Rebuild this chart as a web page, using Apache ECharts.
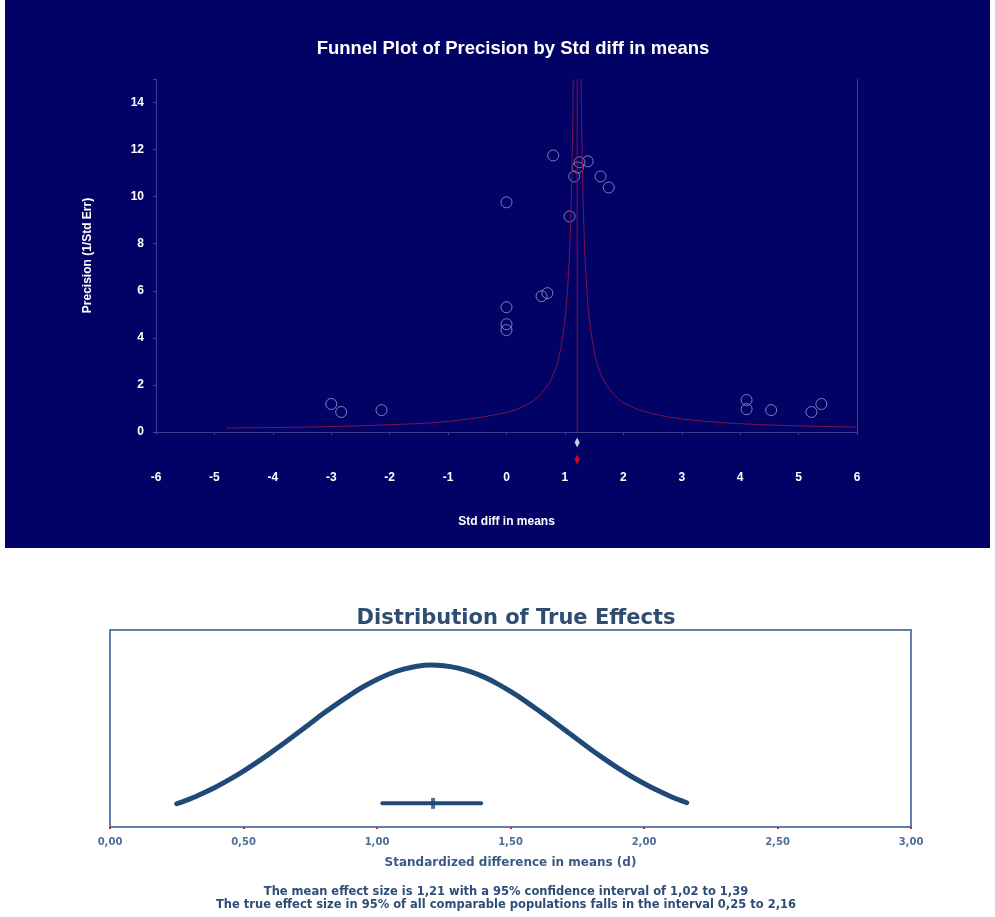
<!DOCTYPE html>
<html>
<head>
<meta charset="utf-8">
<script src="https://cdn.jsdelivr.net/npm/echarts@6/dist/echarts.min.js"></script>
<style>
  html, body { margin: 0; padding: 0; background: #ffffff; }
  #main { width: 995px; height: 917px; }
</style>
</head>
<body>
<div id="main"></div>
<script>
// studies: effect (std diff in means) and precision (1/SE)
const studyX = [-3.0, -2.83, -2.14, 0.0, 0.0, 0.0, 0.0, 0.6, 0.7, 0.8, 1.08, 1.16, 1.22, 1.25, 1.39, 1.61, 1.75, 4.11, 4.11, 4.53, 5.22, 5.39];
const studyPrecision = [1.19, 0.85, 0.93, 9.76, 5.3, 4.58, 4.33, 5.77, 5.9, 11.75, 9.16, 10.86, 11.24, 11.46, 11.5, 10.86, 10.39, 1.36, 0.97, 0.93, 0.85, 1.19];

// funnel limits
const leftFunnelX = [-4.8, -4.0, -3.0, -2.0, -1.0, 0.0, 0.3, 0.5, 0.71, 0.81, 0.9, 1.0, 1.056, 1.1, 1.13, 1.143];
const leftFunnelP = [0.17, 0.19, 0.23, 0.31, 0.45, 0.83, 1.1, 1.4, 2.0, 2.5, 3.2, 4.8, 6.5, 9.1, 12.5, 15];
const rightFunnelX = [1.277, 1.29, 1.32, 1.364, 1.42, 1.52, 1.61, 1.71, 1.92, 2.12, 2.42, 2.88, 3.48, 4.2, 5.0, 6.0];
const rightFunnelP = [15, 12.5, 9.1, 6.5, 4.8, 3.2, 2.5, 2.0, 1.4, 1.1, 0.83, 0.6, 0.44, 0.33, 0.26, 0.21];
const meanEffect = 1.21;
const precisionMax = 15;

// pooled estimate diamonds (observed, adjusted)
const pooledRows = ['Observed', 'Adjusted'];
const pooledX = [1.21, 1.21];

// distribution of true effects (height read relative to the box)
const distX = [0.25, 0.30, 0.35, 0.40, 0.45, 0.50, 0.55, 0.60, 0.65, 0.70, 0.75, 0.80, 0.85, 0.90, 0.95, 1.00, 1.05, 1.10, 1.15, 1.20,
  1.25, 1.30, 1.35, 1.40, 1.45, 1.50, 1.55, 1.60, 1.65, 1.70, 1.75, 1.80, 1.85, 1.90, 1.95, 2.00, 2.05, 2.10, 2.15, 2.16];
const distHeight = [0.118, 0.143, 0.173, 0.206, 0.243, 0.284, 0.328, 0.375, 0.424, 0.475, 0.526, 0.577, 0.625, 0.671, 0.713, 0.749, 0.779, 0.801, 0.816, 0.822,
  0.819, 0.808, 0.789, 0.762, 0.728, 0.688, 0.644, 0.596, 0.547, 0.496, 0.445, 0.395, 0.347, 0.301, 0.259, 0.221, 0.186, 0.155, 0.128, 0.123];
const ciX = [1.02, 1.39];
const ciLevel = 0.12;

const textLines = [
  'The mean effect size is 1,21 with a 95% confidence interval of 1,02 to 1,39',
  'The true effect size in 95% of all comparable populations falls in the interval 0,25 to 2,16'
];

const FONT = 'Arial, "Liberation Sans", sans-serif';
const WIDE = '"DejaVu Sans", Verdana, sans-serif';
const navy = '#020266';
const frameCol = '#3d3d92';
const funnelCol = '#7d1446';
const blueDark = '#1f4a78';

const toPairs = (xs, ys) => xs.map((x, i) => [x, ys[i]]);

var chart = echarts.init(document.getElementById('main'));
var option = {
  animation: false,
  backgroundColor: '#ffffff',
  graphic: [
    { type: 'rect', z: -10, shape: { x: 5, y: 0, width: 985, height: 548 }, style: { fill: navy } },
    { type: 'text', x: 506, y: 886, style: { text: textLines[0], fill: '#2d4d78', align: 'center', font: 'bold 11.5px ' + WIDE } },
    { type: 'text', x: 506, y: 899, style: { text: textLines[1], fill: '#2d4d78', align: 'center', font: 'bold 11.5px ' + WIDE } }
  ],
  title: [
    {
      text: 'Funnel Plot of Precision by Std diff in means',
      left: 508, top: 34, textAlign: 'center',
      textStyle: { color: '#ffffff', fontSize: 18.5, fontWeight: 'bold', fontFamily: FONT }
    },
    {
      text: 'Distribution of True Effects',
      left: 511, top: 603, textAlign: 'center',
      textStyle: { color: '#2f4d70', fontSize: 21, fontWeight: 'bold', fontFamily: WIDE }
    }
  ],
  grid: [
    { left: 156, right: 138, top: 79, height: 353 },
    { left: 156, right: 138, top: 434, height: 34 },
    { left: 110, right: 84, top: 630, height: 197, show: true, borderColor: '#5f7fa8', borderWidth: 2 }
  ],
  xAxis: [
    {
      gridIndex: 0, type: 'value', min: -6, max: 6, interval: 1,
      name: 'Std diff in means', nameLocation: 'middle', nameGap: 84,
      nameTextStyle: { color: '#ffffff', fontSize: 12, fontWeight: 'bold', fontFamily: FONT },
      axisLine: { onZero: false, lineStyle: { color: frameCol } },
      axisTick: { show: true, length: 3, lineStyle: { color: frameCol } },
      axisLabel: { color: '#ffffff', fontSize: 12, fontWeight: 'bold', fontFamily: FONT, margin: 40 },
      splitLine: { show: false }
    },
    { gridIndex: 1, type: 'value', min: -6, max: 6, show: false },
    {
      gridIndex: 2, type: 'value', min: 0, max: 3, interval: 0.5,
      name: 'Standardized difference in means (d)', nameLocation: 'middle', nameGap: 30,
      nameTextStyle: { color: '#3a5a85', fontSize: 12, fontWeight: 'bold', fontFamily: WIDE },
      axisLine: { onZero: false, lineStyle: { color: '#5f7fa8', width: 2 } },
      axisTick: { show: true, length: 2, lineStyle: { color: '#d02020', width: 2 } },
      axisLabel: { color: '#4e6e98', fontSize: 10, fontWeight: 'bold', fontFamily: WIDE, margin: 10,
        formatter: v => v.toFixed(2).replace('.', ',') },
      splitLine: { show: false }
    }
  ],
  yAxis: [
    {
      gridIndex: 0, type: 'value', min: 0, max: precisionMax, interval: 2,
      name: 'Precision (1/Std Err)', nameLocation: 'middle', nameGap: 62, nameRotate: 90,
      nameTextStyle: { color: '#ffffff', fontSize: 12, fontWeight: 'bold', fontFamily: FONT },
      axisLine: { show: true, onZero: false, lineStyle: { color: frameCol } },
      axisTick: { show: true, length: 3, lineStyle: { color: frameCol } },
      axisLabel: { color: '#ffffff', fontSize: 12, fontWeight: 'bold', fontFamily: FONT, margin: 12,
        formatter: v => (v > 14 ? '' : v) },
      splitLine: { show: false }
    },
    {
      gridIndex: 0, type: 'value', min: 0, max: precisionMax, position: 'right',
      axisLine: { show: true, onZero: false, lineStyle: { color: frameCol } },
      axisTick: { show: false }, axisLabel: { show: false }, splitLine: { show: false }
    },
    { gridIndex: 1, type: 'category', data: pooledRows, inverse: true, show: false },
    { gridIndex: 2, type: 'value', min: 0, max: 1, show: false }
  ],
  series: [
    {
      type: 'line', xAxisIndex: 0, yAxisIndex: 0, data: toPairs(leftFunnelX, leftFunnelP),
      smooth: 0.4, showSymbol: false, lineStyle: { color: funnelCol, width: 1 }, clip: true
    },
    {
      type: 'line', xAxisIndex: 0, yAxisIndex: 0, data: toPairs(rightFunnelX, rightFunnelP),
      smooth: 0.4, showSymbol: false, lineStyle: { color: funnelCol, width: 1 }, clip: true
    },
    {
      type: 'line', xAxisIndex: 0, yAxisIndex: 0, data: [[meanEffect, 0], [meanEffect, precisionMax]],
      showSymbol: false, lineStyle: { color: funnelCol, width: 1 }
    },
    {
      type: 'scatter', xAxisIndex: 0, yAxisIndex: 0, data: toPairs(studyX, studyPrecision),
      symbol: 'circle', symbolSize: 11,
      itemStyle: { color: 'rgba(0,0,0,0)', borderColor: '#9b9bcc', borderWidth: 1 }
    },
    {
      type: 'scatter', xAxisIndex: 1, yAxisIndex: 2,
      data: [
        { value: [pooledX[0], pooledRows[0]], itemStyle: { color: '#ffffff' } },
        { value: [pooledX[1], pooledRows[1]], itemStyle: { color: '#ff1010' } }
      ],
      symbol: 'diamond', symbolSize: [5, 10]
    },
    {
      type: 'line', xAxisIndex: 2, yAxisIndex: 3, data: toPairs(distX, distHeight),
      smooth: 0.2, showSymbol: false,
      lineStyle: { color: blueDark, width: 5, cap: 'round', join: 'round' }
    },
    {
      type: 'line', xAxisIndex: 2, yAxisIndex: 3, data: ciX.map(x => [x, ciLevel]),
      showSymbol: false, lineStyle: { color: blueDark, width: 4, cap: 'round' }
    },
    {
      type: 'scatter', xAxisIndex: 2, yAxisIndex: 3, data: [[meanEffect, ciLevel]],
      symbol: 'rect', symbolSize: [4, 11], itemStyle: { color: blueDark }
    }
  ]
};
option && chart.setOption(option);
</script>
</body>
</html>
